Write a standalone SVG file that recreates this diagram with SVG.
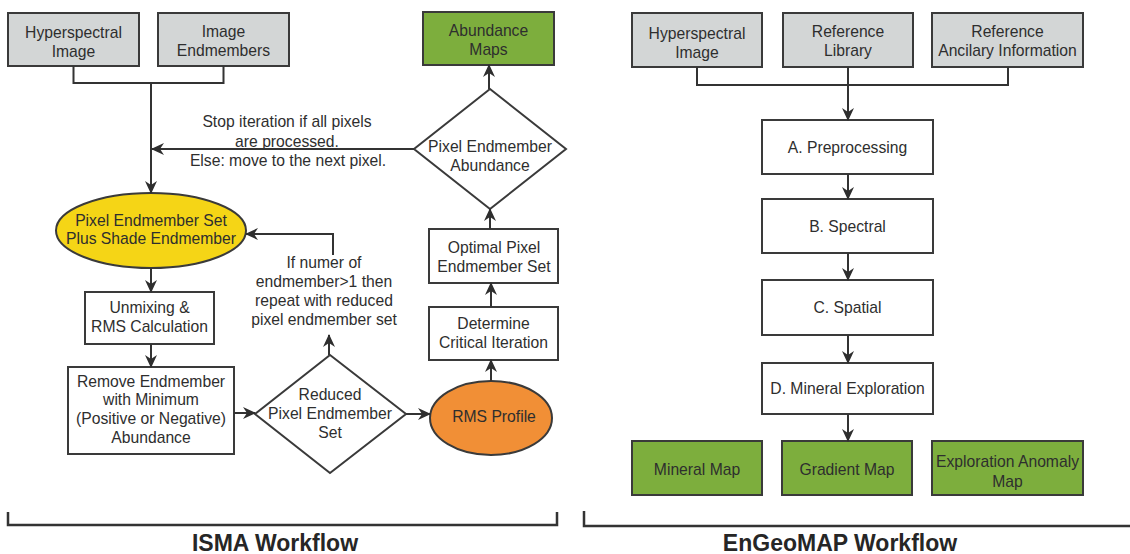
<svg xmlns="http://www.w3.org/2000/svg" width="1130" height="554" viewBox="0 0 1130 554">
<defs>
<marker id="ah" markerUnits="userSpaceOnUse" markerWidth="14" markerHeight="12" refX="12" refY="6" orient="auto">
<path d="M0,0 L13,6 L0,12 L4,6 z" fill="#2e2e2e"/>
</marker>
</defs>
<style>
.box{stroke:#3a3a3a;stroke-width:2}
.grey{fill:#d3d6d6}
.green{fill:#7dae3d}
.white{fill:#ffffff}
.yellow{fill:#f5d516}
.orange{fill:#f18f36}
text{font-family:"Liberation Sans",Arial,sans-serif;font-size:15.7px;fill:#2e2e2e;text-anchor:middle;dominant-baseline:central}
.title{font-size:23px;font-weight:bold;fill:#262626}
.conn{fill:none;stroke:#333333;stroke-width:2}
.arr{marker-end:url(#ah)}
</style>
<rect width="1130" height="554" fill="#ffffff"/>

<!-- ISMA nodes -->
<g id="isma-hsi"><rect class="box grey" x="8" y="13" width="131" height="53"/><text x="73.5" y="32">Hyperspectral</text><text x="73.5" y="51">Image</text></g>
<g id="isma-iem"><rect class="box grey" x="158" y="13" width="131" height="53"/><text x="223.5" y="31">Image</text><text x="223.5" y="50">Endmembers</text></g>
<g id="isma-abund"><rect class="box green" x="423" y="12" width="131" height="53"/><text x="488.5" y="30">Abundance</text><text x="488.5" y="49">Maps</text></g>
<g id="isma-pea"><polygon class="box white" points="490,89 566,149 490,209 414,149"/><text x="490" y="146">Pixel Endmember</text><text x="490" y="165">Abundance</text></g>
<g id="isma-pes"><ellipse class="box yellow" cx="151" cy="230.5" rx="95" ry="37.5"/><text x="151" y="220">Pixel Endmember Set</text><text x="151" y="238">Plus Shade Endmember</text></g>
<g id="isma-unmix"><rect class="box white" x="85" y="292" width="129" height="52"/><text x="149.5" y="307">Unmixing &amp;</text><text x="149.5" y="326">RMS Calculation</text></g>
<g id="isma-remove"><rect class="box white" x="68" y="367" width="166" height="87"/><text x="151" y="381">Remove Endmember</text><text x="151" y="399">with Minimum</text><text x="151" y="418">(Positive or Negative)</text><text x="151" y="437">Abundance</text></g>
<g id="isma-reduced"><polygon class="box white" points="330,355 406,414 330,473 255,414"/><text x="330" y="394">Reduced</text><text x="330" y="413">Pixel Endmember</text><text x="330" y="432">Set</text></g>
<g id="isma-rms"><ellipse class="box orange" cx="491" cy="418" rx="61" ry="37"/><text x="494" y="416">RMS Profile</text></g>
<g id="isma-determine"><rect class="box white" x="429" y="307" width="129" height="53"/><text x="493.5" y="323">Determine</text><text x="493.5" y="342">Critical Iteration</text></g>
<g id="isma-optimal"><rect class="box white" x="429" y="229" width="129" height="54"/><text x="494" y="247">Optimal Pixel</text><text x="494" y="266">Endmember Set</text></g>

<!-- EnGeoMAP nodes -->
<g id="eng-hsi"><rect class="box grey" x="632" y="13" width="130" height="54"/><text x="697" y="33">Hyperspectral</text><text x="697" y="52">Image</text></g>
<g id="eng-reflib"><rect class="box grey" x="783" y="13" width="130" height="54"/><text x="848" y="31">Reference</text><text x="848" y="50">Library</text></g>
<g id="eng-refanc"><rect class="box grey" x="932" y="13" width="151" height="54"/><text x="1007.5" y="31">Reference</text><text x="1007.5" y="50">Ancilary Information</text></g>
<g id="eng-a"><rect class="box white" x="762" y="120" width="171" height="54"/><text x="847.5" y="147">A. Preprocessing</text></g>
<g id="eng-b"><rect class="box white" x="762" y="199" width="171" height="54"/><text x="847.5" y="226">B. Spectral</text></g>
<g id="eng-c"><rect class="box white" x="762" y="280" width="171" height="55"/><text x="847.5" y="307">C. Spatial</text></g>
<g id="eng-d"><rect class="box white" x="762" y="363" width="171" height="51"/><text x="847.5" y="388">D. Mineral Exploration</text></g>
<g id="eng-mineral"><rect class="box green" x="632" y="441" width="130" height="54"/><text x="697" y="469">Mineral Map</text></g>
<g id="eng-gradient"><rect class="box green" x="782" y="441" width="130" height="54"/><text x="847" y="469">Gradient Map</text></g>
<g id="eng-anomaly"><rect class="box green" x="932" y="441" width="151" height="54"/><text x="1007.5" y="461">Exploration Anomaly</text><text x="1007.5" y="481">Map</text></g>

<!-- free labels -->
<g id="labels">
<text x="287" y="121">Stop iteration if all pixels</text>
<text x="287" y="141">are processed.</text>
<text x="288" y="160">Else: move to the next pixel.</text>
<text x="324" y="262">If numer of</text>
<text x="324" y="281">endmember&gt;1 then</text>
<text x="324" y="300">repeat with reduced</text>
<text x="324" y="319">pixel endmember set</text>
<text class="title" x="275" y="543">ISMA Workflow</text>
<text class="title" x="840" y="543">EnGeoMAP Workflow</text>
</g>

<!-- connectors -->
<g id="connectors">
<polyline class="conn" points="73.5,66 73.5,83 223.5,83 223.5,66"/>
<line class="conn arr" x1="151" y1="83" x2="151" y2="193"/>
<line class="conn arr" x1="414" y1="149" x2="152" y2="149"/>
<line class="conn arr" x1="151" y1="268" x2="151" y2="292"/>
<line class="conn arr" x1="151" y1="344" x2="151" y2="367"/>
<line class="conn arr" x1="234" y1="413" x2="255" y2="413"/>
<line class="conn arr" x1="406" y1="414" x2="430" y2="414"/>
<line class="conn arr" x1="491" y1="381" x2="491" y2="360"/>
<line class="conn arr" x1="491" y1="307" x2="491" y2="283"/>
<line class="conn arr" x1="490" y1="229" x2="490" y2="209"/>
<line class="conn arr" x1="489" y1="89" x2="489" y2="65"/>
<line class="conn arr" x1="329" y1="355" x2="329" y2="335"/>
<polyline class="conn arr" points="333,255 333,234 246,234"/>

<polyline class="conn" points="697,67 697,85 1008,85 1008,67"/>
<line class="conn arr" x1="848" y1="67" x2="848" y2="120"/>
<line class="conn arr" x1="848" y1="174" x2="848" y2="199"/>
<line class="conn arr" x1="848" y1="253" x2="848" y2="280"/>
<line class="conn arr" x1="848" y1="335" x2="848" y2="363"/>
<line class="conn arr" x1="848" y1="414" x2="848" y2="441"/>

<polyline class="conn" points="8,512 8,525 557,525 557,512" style="stroke-width:2.5"/>
<polyline class="conn" points="584,511 584,526 1130,526" style="stroke-width:2.5"/>
</g>
</svg>
